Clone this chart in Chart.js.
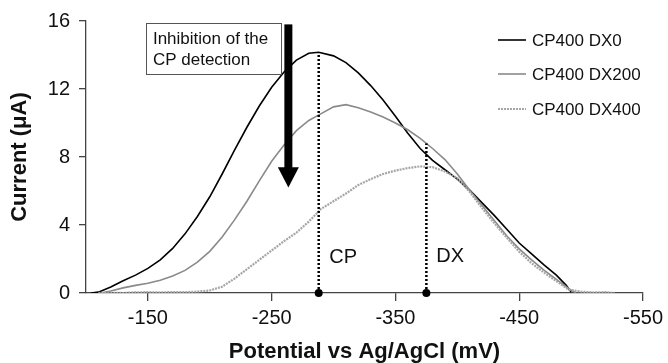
<!DOCTYPE html>
<html>
<head>
<meta charset="utf-8">
<script src="https://cdn.jsdelivr.net/npm/chart.js@4.4.0/dist/chart.umd.min.js"></script>
<style>
  html, body { margin: 0; padding: 0; background: #fff; }
  #wrap { width: 668px; height: 363px; }
</style>
</head>
<body>
<div id="wrap"><canvas id="voltChart" width="668" height="363"></canvas></div>
<script>
// Data
const seriesNames = ['CP400 DX0', 'CP400 DX200', 'CP400 DX400'];

const potDX0 = [-104,-110,-120,-130,-140,-150,-160,-170,-180,-190,-200,-210,-220,-230,-240,-250,-260,-270,-280,-288,-300,-310,-320,-330,-340,-350,-360,-370,-380,-390,-400,-410,-420,-430,-440,-450,-460,-470,-480,-488,-492];
const curDX0 = [0,0.05,0.35,0.72,1.05,1.45,1.95,2.62,3.48,4.5,5.66,7.0,8.4,9.75,11.0,12.1,13.0,13.7,14.1,14.16,13.95,13.55,12.95,12.2,11.35,10.4,9.4,8.5,7.8,7.25,6.7,6.05,5.3,4.55,3.75,2.94,2.3,1.65,1.05,0.45,0.05];

const potDX200 = [-112,-120,-130,-140,-150,-160,-170,-180,-190,-200,-210,-220,-230,-240,-250,-260,-270,-280,-290,-300,-310,-320,-330,-340,-350,-360,-370,-380,-390,-400,-410,-420,-430,-440,-450,-460,-470,-480,-490,-496];
const curDX200 = [0,0.12,0.3,0.45,0.57,0.75,1.0,1.33,1.82,2.45,3.3,4.3,5.4,6.6,7.75,8.7,9.55,10.15,10.55,10.95,11.08,10.9,10.65,10.35,10.0,9.6,9.1,8.5,7.85,7.0,6.05,5.15,4.25,3.35,2.6,1.95,1.35,0.8,0.25,0];

const potDX400 = [-110,-120,-130,-140,-150,-160,-170,-180,-190,-200,-210,-220,-230,-240,-250,-260,-270,-280,-290,-300,-310,-320,-330,-340,-350,-360,-370,-380,-390,-400,-410,-420,-430,-440,-450,-460,-470,-480,-490,-500,-510,-520,-527];
const curDX400 = [0,0.02,0,0.04,0.05,0.03,0.06,0.05,0.08,0.15,0.37,0.85,1.4,1.95,2.5,3.05,3.55,4.2,4.95,5.4,5.85,6.35,6.7,7.0,7.2,7.35,7.45,7.4,7.15,6.75,5.95,5.0,4.1,3.25,2.43,1.75,1.2,0.7,0.2,0.08,0.03,0.05,0];

const xTicks = [-150, -250, -350, -450, -550];
const yTicks = [0, 4, 8, 12, 16];

// peak markers (potential, height of dotted line)
const peakLabels = ['CP', 'DX'];
const peakPot = [-288, -375];
const peakTop = [14.1, 8.8];

const FONT = "'Liberation Sans', Arial, Helvetica, sans-serif";

function toPoints(xs, ys) {
  return xs.map((x, i) => ({ x: x, y: ys[i] }));
}

const styles = [
  { color: '#000000', width: 1.6, dash: [] },
  { color: '#8a8a8a', width: 1.6, dash: [] },
  { color: '#a6a6a6', width: 2.2, dash: [2, 1] }
];

const curveSets = [
  toPoints(potDX0, curDX0),
  toPoints(potDX200, curDX200),
  toPoints(potDX400, curDX400)
].map((pts, i) => ({
  label: seriesNames[i],
  data: pts,
  borderColor: styles[i].color,
  borderWidth: styles[i].width,
  borderDash: styles[i].dash,
  pointRadius: 0,
  tension: 0,
  order: 3 - i
}));

const peakSets = peakPot.map((p, i) => ({
  label: peakLabels[i],
  data: [{ x: p, y: 0 }, { x: p, y: peakTop[i] }],
  borderColor: '#000',
  borderWidth: 2.5,
  borderDash: [2, 2],
  pointRadius: [4, 0],
  pointBackgroundColor: '#000',
  pointBorderWidth: 0,
  clip: false,
  isPeak: true,
  order: 0
}));

// annotation: box with text and the big arrow, positioned in data units
const extras = {
  id: 'extras',
  afterDatasetsDraw(chart) {
    const { ctx, scales: { x, y }, chartArea } = chart;
    ctx.save();

    // peak labels
    ctx.fillStyle = '#111';
    ctx.font = '20px ' + FONT;
    ctx.textBaseline = 'middle';
    ctx.textAlign = 'left';
    ctx.fillText('CP', x.getPixelForValue(-296.5), y.getPixelForValue(2.1));
    ctx.fillText('DX', x.getPixelForValue(-383), y.getPixelForValue(2.15));

    // text box
    const bx0 = x.getPixelForValue(-148.4), bx1 = x.getPixelForValue(-257.3);
    const by0 = y.getPixelForValue(15.88), by1 = y.getPixelForValue(12.88);
    ctx.fillStyle = '#fff';
    ctx.fillRect(bx0, by0, bx1 - bx0, by1 - by0);
    ctx.strokeStyle = '#555';
    ctx.lineWidth = 1;
    ctx.strokeRect(Math.round(bx0) + 0.5, Math.round(by0) + 0.5, Math.round(bx1 - bx0), Math.round(by1 - by0));
    ctx.fillStyle = '#111';
    ctx.font = '17px ' + FONT;
    ctx.fillText('Inhibition of the', bx0 + 7, by0 + 16);
    ctx.fillText('CP detection', bx0 + 7, by0 + 37);

    // arrow
    const ax = x.getPixelForValue(-263.5);
    const aTop = y.getPixelForValue(15.8);
    const aHead = y.getPixelForValue(7.4);
    const aTip = y.getPixelForValue(6.2);
    ctx.fillStyle = '#000';
    ctx.fillRect(ax - 4, aTop, 8, aHead - aTop + 1);
    ctx.beginPath();
    ctx.moveTo(ax - 10.5, aHead);
    ctx.lineTo(ax + 10.5, aHead);
    ctx.lineTo(ax, aTip);
    ctx.closePath();
    ctx.fill();

    // legend
    const lx = chartArea.right - 145;
    const rows = [40, 74, 109];
    ctx.font = '17px ' + FONT;
    chart.data.datasets.filter(d => !d.isPeak).forEach((d, i) => {
      ctx.beginPath();
      ctx.strokeStyle = d.borderColor;
      ctx.lineWidth = d.borderWidth;
      ctx.setLineDash(d.borderDash || []);
      ctx.moveTo(lx, rows[i]);
      ctx.lineTo(lx + 28, rows[i]);
      ctx.stroke();
      ctx.setLineDash([]);
      ctx.fillStyle = '#111';
      ctx.fillText(d.label, lx + 34, rows[i] + 1);
    });

    ctx.restore();
  }
};

const ctx = document.getElementById('voltChart').getContext('2d');
const voltChart = new Chart(ctx, {
  type: 'line',
  data: { datasets: curveSets.concat(peakSets) },
  options: {
    responsive: false,
    animation: false,
    devicePixelRatio: 1,
    layout: { padding: { top: 21, right: 24, bottom: 0, left: 0 } },
    plugins: {
      legend: { display: false },
      tooltip: { enabled: false }
    },
    scales: {
      x: {
        type: 'linear',
        reverse: true,
        min: -550,
        max: -100,
        afterBuildTicks: s => { s.ticks = xTicks.map(v => ({ value: v })); },
        afterFit: s => { s.height = 70; },
        grid: { drawOnChartArea: false, drawTicks: true, tickLength: 8, color: '#444', lineWidth: 1.3 },
        border: { color: '#444', width: 1.3 },
        ticks: { color: '#111', font: { family: FONT, size: 20 }, padding: 5, maxRotation: 0 },
        title: {
          display: true,
          text: 'Potential vs Ag/AgCl (mV)',
          color: '#111',
          font: { family: FONT, size: 22, weight: 'bold', lineHeight: 1 },
          padding: { top: 0, bottom: 0 }
        }
      },
      y: {
        min: 0,
        max: 16,
        afterBuildTicks: s => { s.ticks = yTicks.map(v => ({ value: v })); },
        afterFit: s => { s.width = 86; },
        grid: { drawOnChartArea: false, drawTicks: true, tickLength: 7, color: '#444', lineWidth: 1.3 },
        border: { color: '#444', width: 1.3 },
        ticks: { color: '#111', font: { family: FONT, size: 20 }, padding: 9 },
        title: {
          display: true,
          text: 'Current (\u03BCA)',
          color: '#111',
          font: { family: FONT, size: 22, weight: 'bold', lineHeight: 1 },
          padding: { top: 9, bottom: 0 }
        }
      }
    }
  },
  plugins: [extras]
});
</script>
</body>
</html>
